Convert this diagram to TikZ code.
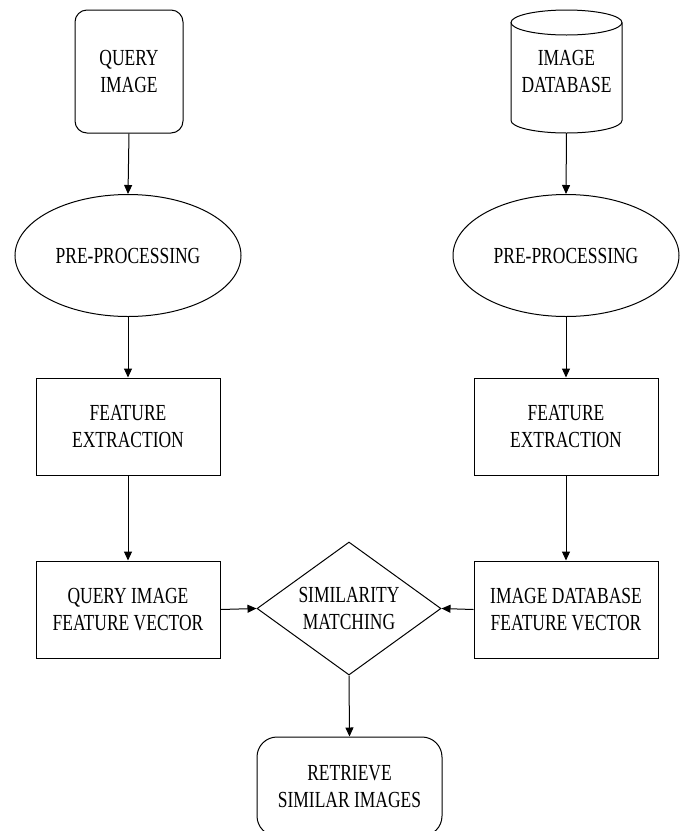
\documentclass[tikz,border=0pt]{standalone}
\usepackage{fontspec}
\setmainfont{Liberation Serif}[FakeStretch=0.76]
\usetikzlibrary{shapes.geometric,arrows.meta}
\begin{document}
\begin{tikzpicture}[x=1pt,y=-1pt,
  every node/.style={font=\fontsize{23}{27}\selectfont, align=center, inner sep=0pt},
  box/.style={draw, line width=1pt, rectangle, minimum width=184pt, minimum height=97pt},
  rbox/.style={draw, line width=1pt, rectangle, rounded corners=#1},
  oval/.style={draw, line width=1pt, ellipse, minimum width=226pt, minimum height=122pt},
  conn/.style={line width=1pt, -{Triangle[length=9pt,width=8pt]}}]
\useasboundingbox (0,0) rectangle (683,831);
% query image
\node[rbox=12pt, minimum width=108pt, minimum height=123pt] (q) at (129,71.5) {QUERY\\IMAGE};
% database cylinder
\draw[line width=1pt] (566.5,22.5) ellipse [x radius=55.5pt, y radius=12.5pt];
\draw[line width=1pt] (511,22.5) -- (511,120.5) arc [start angle=180, end angle=360, x radius=55.5pt, y radius=12.5pt] -- (622,22.5);
\node[minimum width=111pt, minimum height=123pt] (db) at (566.5,71.5) {IMAGE\\DATABASE};
% pre-processing
\node[oval] (p1) at (128,255.5) {PRE-PROCESSING};
\node[oval] (p2) at (566,255.5) {PRE-PROCESSING};
% feature extraction
\node[box] (f1) at (128,426.5) {FEATURE\\EXTRACTION};
\node[box] (f2) at (566,426.5) {FEATURE\\EXTRACTION};
% feature vectors
\node[box] (v1) at (128,609.5) {QUERY IMAGE\\FEATURE VECTOR};
\node[box] (v2) at (566,609.5) {IMAGE DATABASE\\FEATURE VECTOR};
% similarity matching
\node[draw, line width=1pt, diamond, minimum width=184pt, minimum height=133pt] (sim) at (349,608.5) {};
\node (simt) at (349,608.5) {SIMILARITY\\MATCHING};
% retrieve
\node[rbox=20pt, minimum width=185pt, minimum height=99pt] (r) at (349.5,786.5) {RETRIEVE\\SIMILAR IMAGES};
% connectors
\draw[conn] (q.south) -- (p1.north);
\draw[conn] (p1.south) -- (f1.north);
\draw[conn] (f1.south) -- (v1.north);
\draw[conn] (v1.east) -- (sim.west);
\draw[conn] (db.south) -- (p2.north);
\draw[conn] (p2.south) -- (f2.north);
\draw[conn] (f2.south) -- (v2.north);
\draw[conn] (v2.west) -- (sim.east);
\draw[conn] (sim.south) -- (r.north);
\end{tikzpicture}
\end{document}
